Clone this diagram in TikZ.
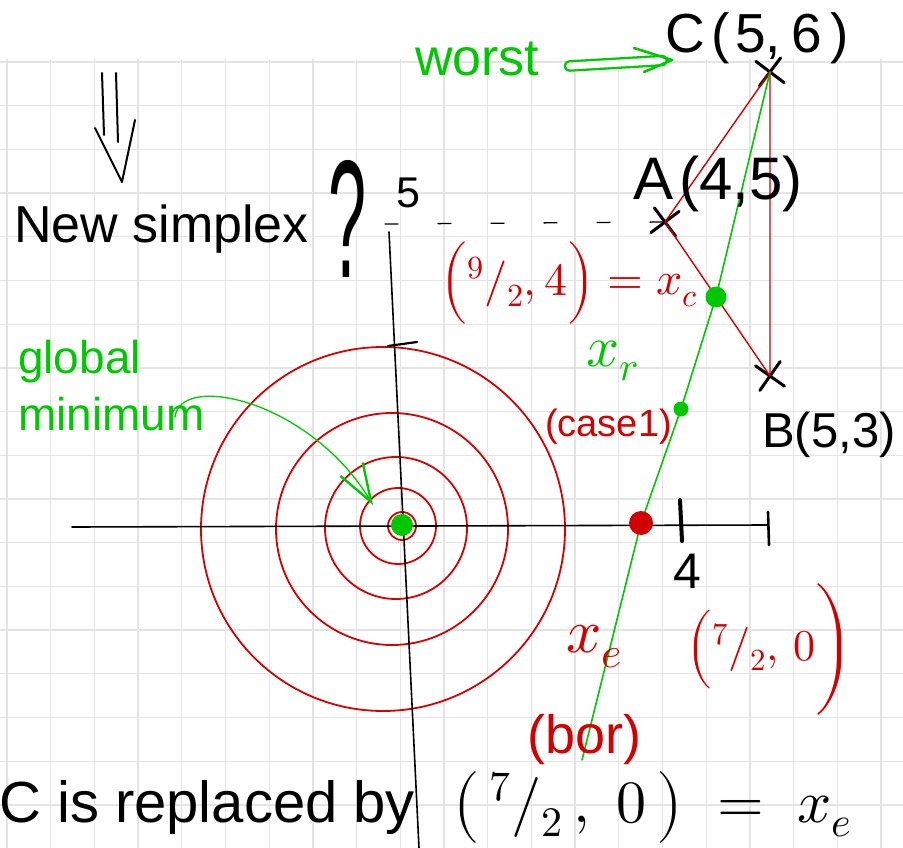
\documentclass[tikz,border=0pt]{standalone}
\usepackage{amsmath}
\usepackage{unicode-math}
\setmainfont{Liberation Sans}
\setmathfont{Latin Modern Math}
\usepackage{xcolor}
\usetikzlibrary{arrows.meta,shapes.misc,positioning}

\definecolor{penred}{RGB}{210,0,0}
\definecolor{pengreen}{RGB}{0,200,0}
\definecolor{gridgray}{RGB}{228,228,228}

\begin{document}
\begin{tikzpicture}[x=1pt, y=-1pt, line cap=round, line join=round,
		ink/.style={inner sep=0pt, font=\fontsize{#1}{#1}\selectfont},
		gridline/.style={gridgray, line width=1.3pt, line cap=butt},
		axis/.style={black, line width=1.6pt},
		level/.style={penred, line width=1.8pt},
		edge/.style={penred, line width=1.4pt},
		ray/.style={pengreen, line width=1.6pt},
		crossmark/.style={cross out, draw=black, line width=3pt, minimum size=22pt, inner sep=0pt},
		gdot/.style={circle, fill=pengreen, inner sep=0pt, minimum size=#1},
		rdot/.style={circle, fill=penred, inner sep=0pt, minimum size=#1}]
		\fill[white] (0,0) rectangle (903,848);
		\useasboundingbox (0,0) rectangle (903,848);
		\foreach \gx in {0,...,20}
			\draw[gridline] ({7+43.7*\gx},59) -- ({7+43.7*\gx},848);
		\foreach \gy in {0,...,17}
			\draw[gridline] (0,{62+43.7*\gy}) -- (903,{62+43.7*\gy});
		
		\draw[level] (402,526) circle[radius=14];
		\draw[level] (398,526) circle[radius=38];
		\draw[level] (396,528) circle[radius=71];
		\draw[level] (392,529) circle[radius=116];
		\draw[level] (383,529) circle[radius=182];
		
		\coordinate (xleft) at (72,527);
		\coordinate (xright) at (768,525);
		\coordinate (ytop) at (389,232);
		\coordinate (ybot) at (419,848);
		\draw[axis] (xleft) -- (xright);
		\draw[axis] (ytop) -- (ybot);
		\draw[line width=4pt] (680,500) -- (682,541);
		\draw[line width=2.6pt] (768,512) -- (769,545);
		\draw[line width=2.2pt] (388,346) -- (417,342);
		\node[ink=50] (four) at (687,571) {4};
		\node[ink=43] (five) at (408,193) {5};
		
		\node[crossmark, rotate=8] (C) at (770,72) {};
		\node[crossmark, rotate=-8] (A) at (665,222) {};
		\node[crossmark, rotate=10] (B) at (770,376) {};
		\draw[edge] (C.center) -- (A.center) -- (B.center) -- cycle;
		\coordinate (yfive) at (385,224);
		\draw[line width=1.3pt, dash pattern=on 13pt off 40pt] (yfive) -- (A.center);
		
		\coordinate (xc) at (716,297);
		\coordinate (xr) at (681,409);
		\coordinate (xe) at (641,523);
		\coordinate (rayend) at (582,760);
		\draw[ray] (C.center) -- (xc) -- (xr) -- (xe) -- (rayend);
		\node[gdot=21pt] (xcdot) at (xc) {};
		\node[gdot=15pt] (xrdot) at (xr) {};
		\node[rdot=24pt] (xedot) at (xe) {};
		\node[gdot=22pt] (mindot) at (402,525) {};
		
		\draw[line width=2pt] (102,73) -- (104,135) (116,73) -- (118,142) (95,128) -- (122,182) -- (135,120);
		\node[ink=52, anchor=base west] (newsimp) at (14,243) {New simplex};
		\node[inner sep=0pt, anchor=base west] (quest) at (328,277) {\resizebox{38pt}{117pt}{?}};
		
		\node[ink=52, text=pengreen, anchor=base west] (worst) at (415,76) {worst};
		\node[ink=55, anchor=base west] (Clabel) at (665,53) {C\kern7pt(\kern5pt5,\kern10pt6\kern9pt)};
		\coordinate (wtail) at ([xshift=30pt,yshift=10pt]worst.base east);
		\coordinate (wtip) at ([xshift=7pt,yshift=-7pt]Clabel.base west);
		\draw[pengreen, line width=2.3pt, double distance=7pt, shorten >=10pt] (wtail) -- (wtip);
		\draw[pengreen, line width=2.6pt] ([shift={(-38pt,12pt)}]wtip) -- (wtip) -- ([shift={(-28pt,-12pt)}]wtip);
		\node[ink=60, anchor=base west] (Alabel) at (633,200) {A\kern6pt(4,5)};
		\node[ink=49, anchor=base west] (Blabel) at (762,447) {B(5,3)};
		
		\node[ink=46, text=penred, anchor=base west] (xclabel) at (440,295) {$\Bigl({}^{9}/_{2},4\Bigr)=x_c$};
		\node[ink=58, text=pengreen, anchor=base west] (xrlabel) at (586,366) {$x_r$};
		\node[ink=38, text=penred, anchor=base west] (caselabel) at (545,436) {(case1)};
		\node[ink=62, text=penred, anchor=base west] (xelabel) at (566,652) {$x_e$};
		\node[ink=44, text=penred, anchor=base west] (xecoord) at (686,660) {$\Bigl({}^{7}/_{2},\,0\Biggr)$};
		\node[ink=54, text=penred, anchor=base west] (borlabel) at (527,753) {(bor)};
		
		\node[ink=46, text=pengreen, align=left, anchor=north west, font=\fontsize{46}{57}\selectfont] (glob) at (18,340) {global\\minimum};
		\draw[pengreen, line width=1.3pt, -{Straight Barb[length=38pt,width=26pt,line width=2.4pt]}] ([xshift=-30pt,yshift=14pt]glob.south east) .. controls (180,372) and (310,400) .. (373,505);
		
		\node[ink=58, anchor=base west] (replaced) at (-1,822) {C is replaced by};
		\node[ink=60, anchor=base west] (repval) at (452,822) {$\bigl(\,{}^{7}/_{2}\,,\;0\,\bigr)\;=\;x_e$};
	\end{tikzpicture}
\end{document}
